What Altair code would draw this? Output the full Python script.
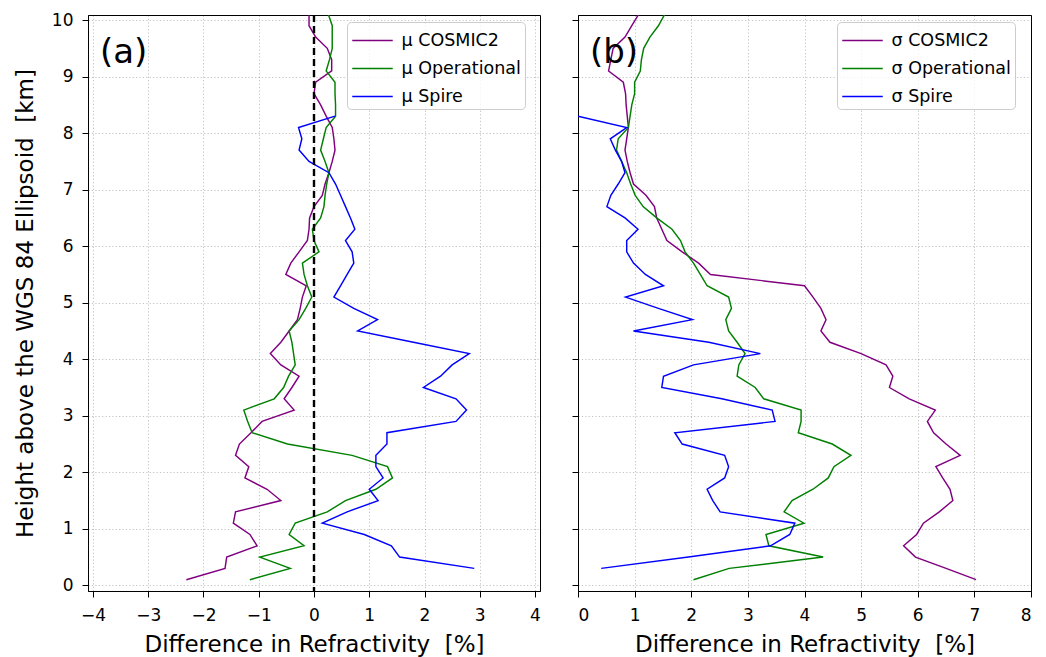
import altair as alt
import pandas as pd

# ---- data ----
heights = [0.1, 0.3, 0.5, 0.7, 0.9, 1.1, 1.3, 1.5, 1.7, 1.9,
           2.1, 2.3, 2.5, 2.7, 2.9, 3.1, 3.3, 3.5, 3.7, 3.9,
           4.1, 4.3, 4.5, 4.7, 4.9, 5.1, 5.3, 5.5, 5.7, 5.9,
           6.1, 6.3, 6.5, 6.7, 6.9, 7.1, 7.3, 7.5, 7.7, 7.9,
           8.1, 8.3, 8.5, 8.7, 8.9, 9.1, 9.3, 9.5, 9.7, 9.9,
           10.1]
spire_heights = [0.3, 0.5, 0.7, 0.9, 1.1, 1.3, 1.5, 1.7, 1.9,
                 2.1, 2.3, 2.5, 2.7, 2.9, 3.1, 3.3, 3.5, 3.7, 3.9,
                 4.1, 4.3, 4.5, 4.7, 4.9, 5.1, 5.3, 5.5, 5.7, 5.9,
                 6.1, 6.3, 6.5, 6.7, 6.9, 7.1, 7.3, 7.5, 7.7, 7.9,
                 8.1, 8.3]

mu_cosmic2 = [-2.31, -1.61, -1.58, -1.03, -1.16, -1.46, -1.42, -0.60, -0.85, -1.25,
              -1.18, -1.42, -1.35, -1.14, -0.94, -0.36, -0.54, -0.40, -0.27, -0.60,
              -0.79, -0.60, -0.45, -0.30, -0.25, -0.21, -0.14, -0.51, -0.42, -0.27,
              -0.12, -0.09, -0.08, 0.00, 0.15, 0.20, 0.27, 0.33, 0.38, 0.36,
              0.33, 0.22, 0.12, 0.00, 0.03, 0.32, 0.32, 0.24, 0.03, -0.09,
              -0.09]
mu_operational = [-1.16, -0.43, -0.98, -0.18, -0.45, -0.34, 0.24, 0.57, 1.12, 1.42,
                  1.33, 0.69, -0.48, -1.12, -1.20, -1.27, -0.72, -0.55, -0.46, -0.34,
                  -0.37, -0.40, -0.45, -0.27, -0.15, -0.04, -0.12, -0.18, -0.21, 0.09,
                  0.00, -0.03, 0.12, 0.18, 0.20, 0.23, 0.27, 0.20, 0.12, 0.17,
                  0.22, 0.39, 0.39, 0.38, 0.38, 0.22, 0.28, 0.33, 0.33, 0.33,
                  0.26]
mu_spire = [2.90, 1.55, 1.40, 0.91, 0.15, 0.60, 1.16, 1.00, 1.25,
            1.12, 1.12, 1.32, 1.32, 2.57, 2.76, 2.57, 1.98, 2.29, 2.50,
            2.81, 1.80, 0.79, 1.15, 0.72, 0.36, 0.48, 0.60, 0.72, 0.69,
            0.57, 0.74, 0.66, 0.57, 0.48, 0.39, 0.27, -0.09, -0.27, -0.22,
            -0.28, 0.38]

sigma_cosmic2 = [7.03, 6.50, 5.96, 5.75, 5.98, 6.10, 6.38, 6.62, 6.57, 6.44,
                 6.32, 6.75, 6.50, 6.28, 6.17, 6.31, 5.85, 5.50, 5.56, 5.44,
                 5.00, 4.45, 4.29, 4.38, 4.29, 4.15, 4.00, 2.34, 2.13, 1.84,
                 1.57, 1.48, 1.39, 1.35, 1.20, 0.98, 0.92, 0.87, 0.83, 0.86,
                 0.89, 0.87, 0.85, 0.84, 0.80, 0.54, 0.58, 0.62, 0.83, 0.95,
                 1.07]
sigma_operational = [2.04, 2.67, 4.33, 3.37, 3.32, 3.99, 3.64, 3.78, 4.15, 4.42,
                     4.52, 4.82, 4.49, 3.89, 3.94, 3.94, 3.28, 3.13, 2.81, 2.84,
                     2.95, 2.81, 2.66, 2.61, 2.71, 2.66, 2.28, 2.16, 2.04, 1.89,
                     1.81, 1.66, 1.39, 1.15, 1.01, 0.93, 0.86, 0.77, 0.68, 0.71,
                     0.89, 0.92, 0.95, 1.00, 1.00, 1.10, 1.12, 1.16, 1.27, 1.42,
                     1.53]
sigma_spire = [0.41, 1.95, 3.40, 3.74, 3.83, 2.51, 2.38, 2.28, 2.59,
               2.66, 2.59, 1.84, 1.71, 3.48, 3.43, 2.54, 1.48, 1.51, 2.04,
               3.22, 2.31, 0.98, 2.02, 1.42, 0.84, 1.51, 1.19, 0.98, 0.86,
               0.86, 1.06, 0.83, 0.51, 0.58, 0.71, 0.83, 0.77, 0.66, 0.57,
               0.86, 0.00]

mu_names = ["μ COSMIC2", "μ Operational", "μ Spire"]
sigma_names = ["σ COSMIC2", "σ Operational", "σ Spire"]
series_colors = ["#800080", "#008000", "#0000ff"]
x_ticks_a = [-4, -3, -2, -1, 0, 1, 2, 3, 4]
x_ticks_b = [0, 1, 2, 3, 4, 5, 6, 7, 8]
y_ticks = [0, 1, 2, 3, 4, 5, 6, 7, 8, 9, 10]

x_title = "Difference in Refractivity\u00a0 [%]"
y_title = "Height above the WGS 84 Ellipsoid\u00a0 [km]"


def long_frame(names, series):
    rows = []
    for name, (hs, vals) in zip(names, series):
        for h, v in zip(hs, vals):
            rows.append({"series": name, "height": h, "value": v})
    return pd.DataFrame(rows)


df_mu = long_frame(mu_names, [(heights, mu_cosmic2), (heights, mu_operational),
                              (spire_heights, mu_spire)])
df_sigma = long_frame(sigma_names, [(heights, sigma_cosmic2), (heights, sigma_operational),
                                    (spire_heights, sigma_spire)])

H = 576
y_scale = alt.Scale(domain=[-0.1, 10.09], nice=False, zero=False)


def panel(df, names, xdomain, xticks, letter, show_y_labels, zero_line, width):
    x_axis = alt.Axis(values=xticks, title=x_title, format="d")
    if show_y_labels:
        y_axis = alt.Axis(values=y_ticks, title=y_title, format="d")
    else:
        y_axis = alt.Axis(values=y_ticks, title=None, labels=False)
    lines = alt.Chart(df).mark_line(strokeWidth=1.45, clip=True).encode(
        x=alt.X("value:Q", scale=alt.Scale(domain=xdomain, nice=False, zero=False), axis=x_axis),
        y=alt.Y("height:Q", scale=y_scale, axis=y_axis),
        color=alt.Color("series:N",
                        scale=alt.Scale(domain=names, range=series_colors),
                        legend=alt.Legend(title=None, orient="none", legendX=259, legendY=7)),
        order=alt.Order("height:Q"),
    )
    label = alt.Chart(alt.Data(values=[{"t": letter}])).mark_text(
        align="left", baseline="alphabetic", fontSize=34, font="DejaVu Sans", color="black"
    ).encode(text="t:N", x=alt.value(12), y=alt.value(47.5))
    layers = [lines]
    if zero_line:
        rule = alt.Chart(pd.DataFrame({"value": [0]})).mark_rule(
            color="black", strokeWidth=2.4, strokeDash=[7, 4]
        ).encode(x="value:Q")
        layers.append(rule)
    layers.append(label)
    return alt.layer(*layers).properties(width=width, height=H)


pa = panel(df_mu, mu_names, [-4.09, 4.09], x_ticks_a, "(a)", True, True, 452)
pb = panel(df_sigma, sigma_names, [0, 8], x_ticks_b, "(b)", False, False, 453)

chart = alt.hconcat(pa, pb, spacing=30).resolve_scale(color="independent").properties(
    padding={"left": 5, "top": 2, "right": 5, "bottom": 0}
).configure(font="DejaVu Sans").configure_view(
    stroke="black", strokeWidth=1
).configure_axis(
    domainColor="black", tickColor="black", labelColor="black", titleColor="black",
    labelFont="DejaVu Sans", titleFont="DejaVu Sans",
    labelFontSize=17, titleFontSize=23, titleFontWeight="normal",
    tickSize=6, tickWidth=1, domainWidth=1,
    grid=True, gridColor="#000000", gridOpacity=0.24, gridDash=[1.2, 2.2], gridWidth=1,
).configure_axisX(labelPadding=10, titlePadding=10.5).configure_axisY(
    labelPadding=9, titlePadding=14
).configure_legend(
    padding=4, rowPadding=5, symbolSize=729, symbolType="M-1.5,0L1.5,0",
    symbolOffset=7, labelOffset=14.5, labelFontSize=17.5, labelFont="DejaVu Sans",
    labelColor="black", symbolStrokeWidth=1.5,
    fillColor="rgba(255,255,255,0.8)", strokeColor="#cccccc", cornerRadius=4,
)

chart.save("out.html", embed_options={"renderer": "svg", "actions": False})
